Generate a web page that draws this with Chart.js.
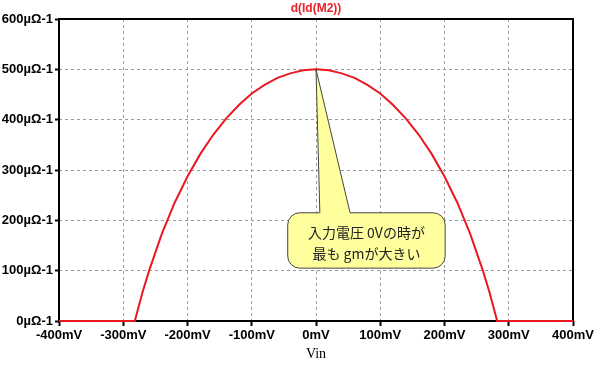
<!DOCTYPE html>
<html>
<head>
<meta charset="utf-8">
<script src="https://cdn.jsdelivr.net/npm/chart.js@4.4.0/dist/chart.umd.min.js"></script>
<style>
  html, body { margin: 0; padding: 0; background: #fff; }
  #wrap { width: 598px; height: 368px; }
</style>
</head>
<body>
<div id="wrap"><canvas id="gmChart" width="598" height="368"></canvas></div>
<script>
// Data: Vin (mV) vs d(Id(M2)) (µΩ-1)
const vin = [-400, -282, -270, -260, -240, -220, -200, -180, -160, -140, -120, -100, -80, -60, -40, -20, 0,
  20, 40, 60, 80, 100, 120, 140, 160, 180, 200, 220, 240, 260, 270, 282, 400];
const gm = [0, 0, 57, 99, 173, 235, 287, 332, 370, 402, 429, 452, 469, 483, 492, 498, 500,
  498, 492, 483, 469, 452, 429, 402, 370, 332, 287, 235, 173, 99, 57, 0, 0];

const xTicks = [-400, -300, -200, -100, 0, 100, 200, 300, 400];
const yTicks = [0, 100, 200, 300, 400, 500, 600];

const titleText = 'd(Id(M2))';
const xTitle = 'Vin';
const noteLines = ['入力電圧 0Vの時が', '最も gmが大きい'];

// Plugin: frame, title, axis title and the callout
const extras = {
  id: 'extras',
  beforeDatasetsDraw(chart) {
    const { ctx, chartArea: a } = chart;
    ctx.save();
    ctx.strokeStyle = '#000';
    ctx.lineWidth = 2;
    ctx.strokeRect(a.left, a.top, a.right - a.left, a.bottom - a.top);
    ctx.restore();
  },
  afterDatasetsDraw(chart) {
    const { ctx, scales } = chart;
    const x = scales.x, y = scales.y;

    // callout
    const tipX = x.getPixelForValue(0), tipY = y.getPixelForValue(500);
    const L = x.getPixelForValue(-44), R = x.getPixelForValue(201);
    const T = y.getPixelForValue(215), B = y.getPixelForValue(105);
    const b1 = x.getPixelForValue(6), b2 = x.getPixelForValue(53);
    const r = 12;
    ctx.save();
    ctx.beginPath();
    ctx.moveTo(L + r, T);
    ctx.lineTo(b1, T);
    ctx.lineTo(tipX, tipY);
    ctx.lineTo(b2, T);
    ctx.arcTo(R, T, R, B, r);
    ctx.arcTo(R, B, L, B, r);
    ctx.arcTo(L, B, L, T, r);
    ctx.arcTo(L, T, R, T, r);
    ctx.closePath();
    ctx.fillStyle = '#ffff9e';
    ctx.fill();
    ctx.lineWidth = 1;
    ctx.strokeStyle = '#444';
    ctx.stroke();
    ctx.fillStyle = '#222';
    ctx.font = '14px "Noto Sans CJK JP"';
    ctx.textAlign = 'center';
    ctx.textBaseline = 'middle';
    const cx = (L + R) / 2;
    ctx.fillText(noteLines[0], cx, T + 20);
    ctx.fillText(noteLines[1], cx, T + 41);
    ctx.restore();
  },
  afterDraw(chart) {
    const { ctx, chartArea: a } = chart;
    ctx.save();
    ctx.fillStyle = '#e8232a';
    ctx.font = 'bold 12px "Liberation Sans", Arial';
    ctx.textAlign = 'center';
    ctx.textBaseline = 'middle';
    ctx.fillText(titleText, (a.left + a.right) / 2, 9);

    ctx.fillStyle = '#000';
    ctx.font = '14px "Liberation Serif", serif';
    ctx.fillText(xTitle, (a.left + a.right) / 2, 354);
    ctx.restore();
  }
};

const ctx = document.getElementById('gmChart').getContext('2d');
new Chart(ctx, {
  type: 'line',
  data: {
    datasets: [{
      data: vin.map((v, i) => ({ x: v, y: gm[i] })),
      borderColor: '#e8191f',
      borderWidth: 2,
      pointRadius: 0,
      tension: 0,
      fill: false,
      clip: 4
    }]
  },
  options: {
    responsive: false,
    animation: false,
    layout: { padding: { top: 19, right: 25, left: 0, bottom: 0 } },
    plugins: { legend: { display: false }, tooltip: { enabled: false } },
    scales: {
      x: {
        type: 'linear',
        min: -400,
        max: 400,
        afterBuildTicks: (s) => { s.ticks = xTicks.map(v => ({ value: v })); },
        afterFit: (s) => { s.height = 47; },
        ticks: {
          color: '#000',
          font: { family: '"Liberation Sans", Arial', size: 13, weight: 'bold' },
          padding: 2,
          maxRotation: 0,
          callback: (v) => v + 'mV'
        },
        grid: {
          color: '#9a9a9a',
          tickColor: '#000',
          tickBorderDash: [],
          tickLength: 5,
          tickWidth: 2
        },
        border: { display: false, dash: [3, 3] }
      },
      y: {
        type: 'linear',
        min: 0,
        max: 600,
        afterBuildTicks: (s) => { s.ticks = yTicks.map(v => ({ value: v })); },
        afterFit: (s) => { s.width = 59; },
        ticks: {
          color: '#000',
          font: { family: '"Liberation Sans", Arial', size: 13, weight: 'bold' },
          padding: 2,
          callback: (v) => v + 'µΩ-1'
        },
        grid: {
          color: '#9a9a9a',
          tickColor: '#000',
          tickBorderDash: [],
          tickLength: 4,
          tickWidth: 2
        },
        border: { display: false, dash: [3, 3] }
      }
    }
  },
  plugins: [extras]
});
</script>
</body>
</html>
